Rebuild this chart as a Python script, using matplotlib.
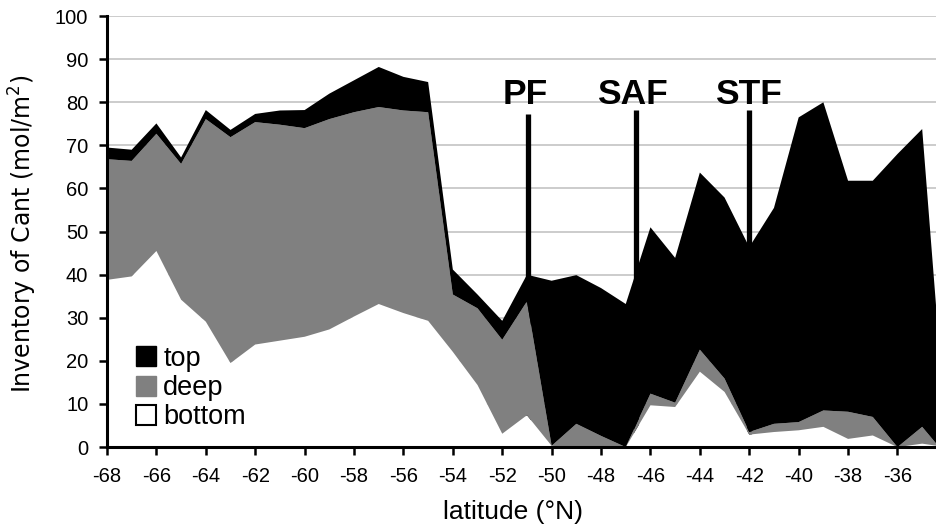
import numpy as np
import matplotlib
matplotlib.use("Agg")
import matplotlib.pyplot as plt
from matplotlib.patches import Patch

plt.rcParams['font.family'] = ['Liberation Sans', 'DejaVu Sans']
plt.rcParams['axes.unicode_minus'] = False

# latitude of each station (deg N)
lat = [-68, -67, -66, -65, -64, -63, -62, -61, -60, -59, -58, -57, -56, -55,
       -54, -53, -52, -51, -50, -49, -48, -47, -46, -45, -44, -43, -42, -41,
       -40, -39, -38, -37, -36, -35, -34.4]

# Cant inventories per layer (mol/m2)
bottom = [38.8, 39.6, 45.5, 34.2, 29.1, 19.5, 23.8, 24.7, 25.6, 27.3, 30.3, 33.2,
          31.1, 29.3, 22.1, 14.4, 3.1, 7.4, 0.3, 0.0, 0.0, 0.0, 9.7, 9.3, 17.5,
          12.8, 2.9, 3.5, 3.9, 4.7, 1.9, 2.7, 0.0, 0.8, 0.3]
deep = [28.0, 26.8, 27.2, 31.5, 47.0, 52.4, 51.6, 50.1, 48.4, 48.8, 47.4, 45.7,
        47.0, 48.4, 13.3, 17.8, 21.8, 26.4, 0.0, 5.4, 2.6, 0.0, 2.7, 1.0, 5.1,
        3.1, 0.6, 1.9, 1.9, 3.8, 6.3, 4.3, 0.0, 3.9, 0.3]
top = [2.7, 2.6, 2.4, 1.5, 2.1, 1.7, 1.9, 3.3, 4.2, 5.9, 7.4, 9.3,
       7.8, 7.0, 5.8, 3.2, 4.4, 6.2, 38.3, 34.5, 34.3, 33.2, 38.6, 33.6, 41.1,
       42.0, 42.9, 50.1, 70.7, 71.5, 53.6, 54.8, 68.0, 69.1, 29.4]

# fronts
front_names = ["PF", "SAF", "STF"]
front_lat = [-50.95, -46.6, -42.0]
front_top = [77.4, 78.3, 78.3]
front_label_lat = [-51.05, -46.75, -42.05]

fig = plt.figure(figsize=(9.37, 5.26), dpi=100)
ax = fig.add_axes([0.1142, 0.150, 0.8858, 0.8194])

ax.set_axisbelow(True)
ax.yaxis.grid(True, color="#c8c8c8", linewidth=1.3)

# front lines sit behind the stacked areas
ax.vlines(front_lat, 0, front_top, color="black", linewidth=3.8, zorder=1.5)

ax.stackplot(lat, bottom, deep, top,
             colors=["white", "#808080", "black"], linewidth=0, zorder=2)

for name, x in zip(front_names, front_label_lat):
    ax.text(x, 79.7, name, ha="center", va="baseline",
            fontsize=25.5, fontweight="bold")

ax.set_xlim(-68, -34.4)
ax.set_ylim(0, 100)
ax.set_xticks(np.arange(-68, -35, 2))
ax.set_yticks(np.arange(0, 101, 10))

for s in ["top", "right"]:
    ax.spines[s].set_visible(False)
for s in ["left", "bottom"]:
    ax.spines[s].set_linewidth(2.2)
    ax.spines[s].set_zorder(5)

ax.tick_params(axis="both", direction="out", length=5.5, width=1.8,
               labelsize=14.5)
ax.tick_params(axis="x", pad=9)
ax.tick_params(axis="y", pad=8)

ax.set_xlabel("latitude (°N)", fontsize=19)
ax.xaxis.set_label_coords(0.489, -0.123)
ax.set_ylabel("Inventory of Cant (mol/m$^2$)", fontsize=17,
              family="DejaVu Sans")
ax.yaxis.set_label_coords(-0.082, 0.494)

handles = [Patch(facecolor="black", edgecolor="black"),
           Patch(facecolor="#808080", edgecolor="#808080"),
           Patch(facecolor="white", edgecolor="black", linewidth=1.5)]
ax.legend(handles, ["top", "deep", "bottom"], loc="upper left",
          bbox_to_anchor=(0.035, 0.235), frameon=False, fontsize=19.5,
          handlelength=0.75, handleheight=0.75, handletextpad=0.25,
          labelspacing=0.12, borderpad=0, borderaxespad=0)

fig.savefig("out.png", dpi=100)
